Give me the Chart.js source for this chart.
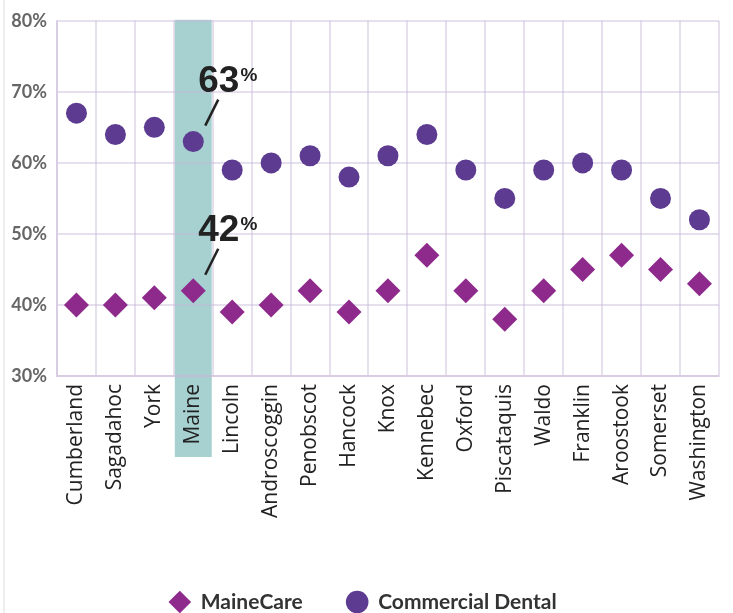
<!DOCTYPE html>
<html>
<head>
<meta charset="utf-8">
<script src="https://cdn.jsdelivr.net/npm/chart.js@4"></script>
<style>
  body { margin: 0; background: #fff; }
  #wrap { position: relative; width: 733px; height: 613px; }
  #wrap::before { content: ""; position: absolute; left: 3px; top: 0; width: 2px; height: 613px; background: #eeeeee; }
  canvas { position: relative; }
</style>
</head>
<body>
<div id="wrap"><canvas id="chart" width="733" height="613"></canvas></div>
<script>
const counties = ['Cumberland', 'Sagadahoc', 'York', 'Maine', 'Lincoln', 'Androscoggin', 'Penobscot', 'Hancock', 'Knox', 'Kennebec', 'Oxford', 'Piscataquis', 'Waldo', 'Franklin', 'Aroostook', 'Somerset', 'Washington'];
const maineCare = [40, 40, 41, 42, 39, 40, 42, 39, 42, 47, 42, 38, 42, 45, 47, 45, 43];
const commercialDental = [67, 64, 65, 63, 59, 60, 61, 58, 61, 64, 59, 55, 59, 60, 59, 55, 52];
const yTicks = [30, 40, 50, 60, 70, 80];
const highlight = 'Maine';

const gridColor = 'rgba(200,185,215,0.45)';

// teal band behind the state total column
const bandPlugin = {
    id: 'band',
    afterLayout(chart) {
        // nudge legend a bit lower, like the original
        chart.legend.top += 9.5;
        chart.legend.bottom += 9.5;
    },
    beforeDraw(chart) {
        const x = chart.scales.x;
        const i = counties.indexOf(highlight);
        const half = (x.getPixelForValue(1) - x.getPixelForValue(0)) / 2;
        const ctx = chart.ctx;
        ctx.save();
        ctx.fillStyle = '#a7d0d1';
        const top = chart.chartArea.top;
        ctx.fillRect(x.getPixelForValue(i) - half + 1, top - 1, half * 2 - 2, chart.chartArea.bottom + 82 - top);
        ctx.restore();
    }
};

// big value callouts for Maine
const calloutPlugin = {
    id: 'callout',
    afterDatasetsDraw(chart) {
        const i = counties.indexOf(highlight);
        const ctx = chart.ctx;
        chart.data.datasets.forEach((ds, d) => {
            const pt = chart.getDatasetMeta(d).data[i];
            ctx.save();
            ctx.strokeStyle = '#222';
            ctx.lineWidth = 2.5;
            ctx.beginPath();
            ctx.moveTo(pt.x + 12, pt.y - 16);
            ctx.lineTo(pt.x + 25, pt.y - 42);
            ctx.stroke();
            ctx.fillStyle = '#222';
            ctx.textBaseline = 'alphabetic';
            ctx.font = 'bold 37px "Liberation Sans", Arial, sans-serif';
            const txt = String(ds.data[i]);
            ctx.fillText(txt, pt.x + 5, pt.y - 50);
            const w = ctx.measureText(txt).width;
            ctx.font = 'bold 19px "Liberation Sans", Arial, sans-serif';
            ctx.fillText('%', pt.x + 6 + w, pt.y - 61);
            ctx.restore();
        });
    }
};

new Chart(document.getElementById('chart'), {
    type: 'line',
    data: {
        labels: counties,
        datasets: [
            {
                label: 'MaineCare',
                data: maineCare,
                showLine: false,
                pointStyle: 'rectRot',
                pointRadius: 12.5,
                pointHoverRadius: 12.5,
                pointBorderWidth: 0,
                backgroundColor: '#8d2a8b',
                borderColor: '#8d2a8b'
            },
            {
                label: 'Commercial Dental',
                data: commercialDental,
                showLine: false,
                pointStyle: 'circle',
                pointRadius: 10.5,
                pointHoverRadius: 10.5,
                pointBorderWidth: 0,
                backgroundColor: '#5c3b91',
                borderColor: '#5c3b91'
            }
        ]
    },
    options: {
        responsive: false,
        animation: false,
        layout: { padding: { top: 19, right: 7, bottom: 0, left: 0 } },
        plugins: {
            tooltip: { enabled: false },
            legend: {
                position: 'bottom',
                labels: {
                    usePointStyle: true,
                    boxHeight: 16,
                    padding: 44,
                    color: '#333',
                    font: { family: 'Lato', weight: 'bold', size: 21 }
                }
            }
        },
        scales: {
            x: {
                offset: true,
                grid: { offset: true, color: gridColor, lineWidth: 2, drawTicks: false },
                border: { color: gridColor, width: 2 },
                ticks: {
                    minRotation: 90,
                    maxRotation: 90,
                    padding: 8,
                    color: '#222',
                    font: { family: '"Open Sans"', size: 21 }
                },
                afterFit(s) { s.height = 162; }
            },
            y: {
                min: yTicks[0],
                max: yTicks[yTicks.length - 1],
                afterBuildTicks(s) { s.ticks = yTicks.map(v => ({ value: v })); },
                grid: { color: gridColor, lineWidth: 2, drawTicks: false },
                border: { color: gridColor, width: 2 },
                ticks: {
                    padding: 10,
                    color: '#666',
                    font: { family: 'Lato', weight: 'bold', size: 18 },
                    callback: v => v + '%'
                },
                afterFit(s) { s.width = 57; }
            }
        }
    },
    plugins: [bandPlugin, calloutPlugin]
});
</script>
</body>
</html>
